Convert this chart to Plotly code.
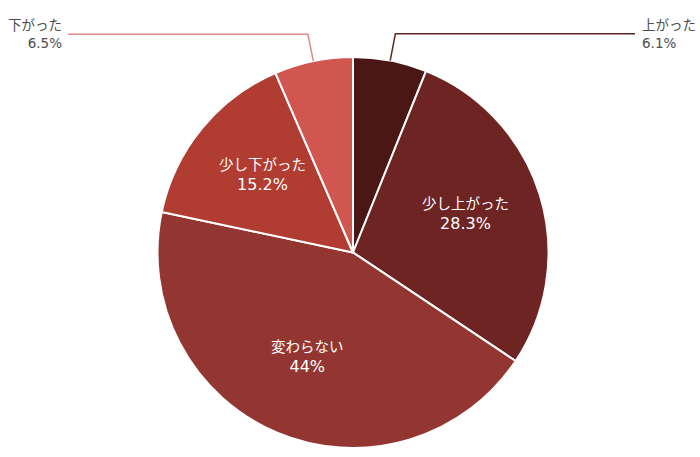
import math
import plotly.graph_objects as go

labels = ["上がった", "少し上がった", "変わらない", "少し下がった", "下がった"]
values = [6.1, 28.3, 44.0, 15.2, 6.5]
pct_text = ["6.1%", "28.3%", "44%", "15.2%", "6.5%"]
colors = ["#4a1714", "#6f2424", "#933632", "#b03c32", "#d15650"]
line_colors = ["#5a2522", None, None, None, "#dc8a86"]
inside = [False, True, True, True, False]

W, H = 700, 457
CX, CY, R = 353.0, 252.5, 195.5

fig = go.Figure(go.Pie(
    labels=labels, values=values, sort=False, direction="clockwise", rotation=0,
    marker=dict(colors=colors, line=dict(color="white", width=2)),
    textinfo="none", hoverinfo="label+percent", showlegend=False,
    domain=dict(x=[(CX - R) / W, (CX + R) / W], y=[1 - (CY + R) / H, 1 - (CY - R) / H]),
))

def px(x):
    return x / W

def py(y):
    return 1 - y / H

font_fam = "DejaVu Sans, Noto Sans CJK JP, sans-serif"
total = sum(values)
cum = 0.0
annotations = []
shapes = []
for i, v in enumerate(values):
    mid = (cum + v / 2) / total * 2 * math.pi
    cum += v
    sx, sy = math.sin(mid), -math.cos(mid)
    if inside[i]:
        r = 0.6 * R
        x, y = CX + r * sx, CY + r * sy - 3
        annotations.append(dict(
            x=px(x), y=py(y), xref="paper", yref="paper", showarrow=False,
            xanchor="center", yanchor="middle",
            text=f"<span style='font-size:14.5px'>{labels[i]}</span><br>"
                 f"<span style='font-size:16px'>{pct_text[i]}</span>",
            align="center",
            font=dict(color="white", size=15, family=font_fam),
        ))
    else:
        x0, y0 = CX + R * 1.0 * sx, CY + R * 1.0 * sy
        x1, y1 = CX + R * 1.14 * sx, CY + R * 1.14 * sy
        right = sx > 0
        x2 = 635 if right else 68
        shapes.append(dict(
            type="path", xref="paper", yref="paper",
            path=f"M {px(x0)},{py(y0)} L {px(x1)},{py(y1)} L {px(x2)},{py(y1)}",
            line=dict(color=line_colors[i], width=1.5),
        ))
        annotations.append(dict(
            x=px(x2 + (5 if right else -4)), y=py(y1), xref="paper", yref="paper",
            showarrow=False, xanchor="left" if right else "right", yanchor="middle",
            text=f"{labels[i]}<br>{pct_text[i]}", align="left" if right else "right",
            font=dict(color="#4d4d4d", size=13.5, family=font_fam),
        ))

fig.update_layout(
    width=W, height=H, margin=dict(l=0, r=0, t=0, b=0),
    paper_bgcolor="white", plot_bgcolor="white",
    annotations=annotations, shapes=shapes,
    font=dict(family=font_fam),
)
fig.write_html("out.html", config={"displayModeBar": False},
               post_script="document.body.style.margin='0';document.body.style.padding='0';")
